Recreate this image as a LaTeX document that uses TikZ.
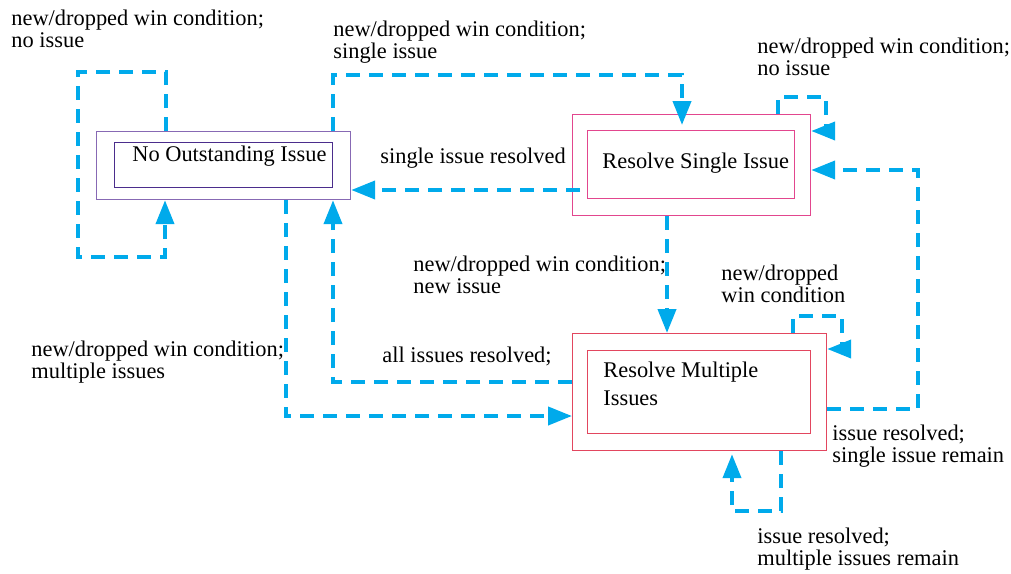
\documentclass[tikz,border=0pt]{standalone}
\usepackage{fontspec}
\setmainfont{Liberation Serif}
\usetikzlibrary{arrows.meta,calc}

\definecolor{flowcyan}{RGB}{0,170,235}
\definecolor{idleouter}{RGB}{135,105,180}
\definecolor{idleinner}{RGB}{75,45,140}
\definecolor{singlepink}{RGB}{226,70,142}
\definecolor{multired}{RGB}{226,70,95}

\tikzset{
  x=0.5pt, y=-0.5pt,
  frame/.style={draw, line width=0.6pt, inner sep=0pt, anchor=north west},
  % base anchor of a multi-line node sits on its last line
  lbl/.style={inner sep=0pt, anchor=base west, align=left,
    font=\fontsize{11.2}{11}\selectfont},
  title/.style={inner sep=0pt, anchor=base west, align=left,
    font=\fontsize{11.2}{14}\selectfont},
  flow/.style={draw=flowcyan, line width=2pt, dash pattern=on 7pt off 4.5pt,
    -{Triangle[length=12pt,width=9pt]}},
}

\begin{document}
\begin{tikzpicture}
\useasboundingbox (0,0) rectangle (1011,573);

% state boxes (double outline)
\node[frame, draw=idleouter, minimum width=127pt, minimum height=34pt] (b1o) at (96,131) {};
\node[frame, draw=idleinner, minimum width=109pt, minimum height=22.5pt] (b1i) at (114,142) {};
\node[title] (t1) at (132,161) {No Outstanding Issue};

\node[frame, draw=singlepink, minimum width=119pt, minimum height=50.5pt] (b2o) at (572,114) {};
\node[frame, draw=singlepink, minimum width=103.5pt, minimum height=34pt] (b2i) at (587,130) {};
\node[title] (t2) at (602,168) {Resolve Single Issue};

\node[frame, draw=multired, minimum width=127pt, minimum height=58.5pt] (b3o) at (572,333) {};
\node[frame, draw=multired, minimum width=111.5pt, minimum height=41.5pt] (b3i) at (587,350) {};
\node[title] (t3) at (603,405) {Resolve Multiple\\Issues};

% transitions
\draw[flow] ($(b1o.north west)+(70,0)$) -- (166,72) -- (78,72) -- (78,257)
  -- (165,257) -- ($(b1o.south west)+(69,0)$);
\draw[flow] ($(b1o.north west)+(237,0)$) -- (333,75) -- (682,75)
  -- ($(b2o.north west)+(110,11)$);
\draw[flow] ($(b2o.north west)+(206,0)$) -- (778,97) -- (826,97) -- (826,131)
  -- ($(b2o.north east)+(0,17)$);
\draw[flow] ($(b2o.north west)+(8,76)$) -- ($(b1o.north east)+(0,59)$);
\draw[flow] ($(b2o.south west)+(95,0)$) -- ($(b3o.north west)+(95,0)$);
\draw[flow] ($(b3o.north west)+(221,0)$) -- (793,316) -- (842,316) -- (842,349)
  -- ($(b3o.north east)+(0,16)$);
\draw[flow] ($(b3o.north east)+(0,76)$) -- (918,409) -- (918,170)
  -- ($(b2o.north east)+(0,56)$);
\draw[flow] ($(b3o.south west)+(209,0)$) -- (781,511) -- (732,511)
  -- ($(b3o.south west)+(160,3)$);
\draw[flow] ($(b3o.north west)+(0,49)$) -- (333,382)
  -- ($(b1o.south west)+(237,0)$);
\draw[flow] ($(b1o.south west)+(190,0)$) -- (286,416)
  -- ($(b3o.north west)+(0,83)$);

% transition labels
\node[lbl] (l1) at (11,47) {new/dropped win condition;\\no issue};
\node[lbl] (l2) at (333,58) {new/dropped win condition;\\single issue};
\node[lbl] (l3) at (757,75) {new/dropped win condition;\\no issue};
\node[lbl] (l4) at (380,163) {single issue resolved};
\node[lbl] (l5) at (413,293) {new/dropped win condition;\\new issue};
\node[lbl] (l6) at (721,302) {new/dropped\\win condition};
\node[lbl] (l7) at (382,362) {all issues resolved;};
\node[lbl] (l8) at (31,378) {new/dropped win condition;\\multiple issues};
\node[lbl] (l9) at (832,462) {issue resolved;\\single issue remain};
\node[lbl] (l10) at (757,565) {issue resolved;\\multiple issues remain};
\end{tikzpicture}
\end{document}
